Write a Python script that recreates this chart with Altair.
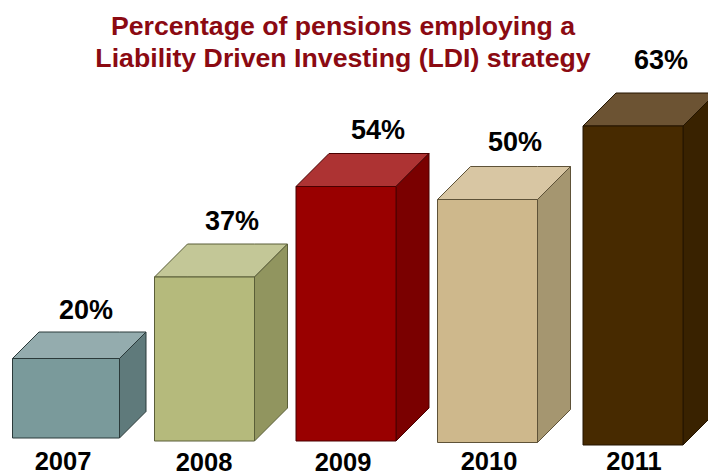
import altair as alt
import numpy as np
import pandas as pd

# Survey results: share of pensions using an LDI strategy
years = [2007, 2008, 2009, 2010, 2011]
shares = [20, 37, 54, 50, 63]
title_lines = ["Percentage of pensions employing a", "Liability Driven Investing (LDI) strategy"]

front_colors = ["#7A9A9B", "#B5BA7C", "#990000", "#CEB88C", "#472A00"]
top_colors = ["#94ACAE", "#C3C797", "#AD3333", "#D8C6A3", "#6C5333"]
side_colors = ["#5F7A7B", "#91955F", "#7A0000", "#A59670", "#392200"]
edge_colors = ["#2B3A3A", "#5A5E38", "#4A0000", "#5E5238", "#241500"]

# Scale stops: the drawing is hand-laid, so both axes run through breakpoints
x_stops = [2007, 2008, 2009, 2010, 2011, 2012]
x_pixels = [12.5, 154.5, 296, 437.5, 583, 729]
y_stops = [-20, 0, 20, 37, 50, 54, 63, 90]
y_pixels = [532, 445, 358.5, 277, 199.5, 186.5, 126, -55]

# Box geometry, in screen pixels, converted to data units through the scales
face_width = [107, 100, 100, 100, 100]
depth = [26.5, 33, 33, 33, 33]
base_px = [438, 441, 441, 442.5, 445]
label_px = [(86, 311), (232, 222), (378, 131), (515, 143), (661, 61)]
year_px = [(63, 462), (204, 463), (343, 463), (489, 462), (634, 462)]


def x_at(px):
    return float(np.interp(px, x_pixels, x_stops))


def y_at(px):
    return float(np.interp(-px, [-p for p in y_pixels], y_stops))


def y_px(value):
    return float(np.interp(value, y_stops, y_pixels))


front_rows, area_rows, label_rows, year_rows = [], [], [], []
for i, (year, share) in enumerate(zip(years, shares)):
    left = float(np.interp(year, x_stops, x_pixels))
    right = left + face_width[i]
    d = depth[i]
    top = y_px(share)
    base = base_px[i]
    front_rows.append(
        dict(year=year, x=x_at(left), x2=x_at(right), y=share, y2=y_at(base),
             fill=front_colors[i], edge=edge_colors[i])
    )
    # Top face: a parallelogram leaning back from the front edge
    for px, hi, lo in [(left, top, top), (left + d, top - d, top),
                       (right, top - d, top), (right + d, top - d, top - d)]:
        area_rows.append(dict(face=f"{year}-top", x=x_at(px), y=y_at(hi), y2=y_at(lo),
                              fill=top_colors[i], edge=edge_colors[i]))
    # Side face: runs from the front's right edge to the back corner
    for px, hi, lo in [(right, top, base), (right + d, top - d, base - d)]:
        area_rows.append(dict(face=f"{year}-side", x=x_at(px), y=y_at(hi), y2=y_at(lo),
                              fill=side_colors[i], edge=edge_colors[i]))
    label_rows.append(dict(x=x_at(label_px[i][0]), y=y_at(label_px[i][1]), text=f"{share}%"))
    year_rows.append(dict(x=x_at(year_px[i][0]), y=y_at(year_px[i][1]), text=str(year)))

x_scale = alt.Scale(domain=x_stops, range=x_pixels)
y_scale = alt.Scale(domain=y_stops, range=y_pixels)
X = alt.X("x:Q", scale=x_scale, axis=None)
Y = alt.Y("y:Q", scale=y_scale, axis=None)
FILL = alt.Fill("fill:N", scale=None, legend=None)
EDGE = alt.Stroke("edge:N", scale=None, legend=None)

faces = (
    alt.Chart(pd.DataFrame(area_rows))
    .mark_area(orient="vertical", strokeWidth=1, clip=True, interpolate="linear")
    .encode(x=X, y=alt.Y("y:Q", scale=y_scale, axis=None, stack=None), y2="y2:Q",
            fill=FILL, stroke=EDGE, detail="face:N")
)
fronts = (
    alt.Chart(pd.DataFrame(front_rows))
    .mark_rect(strokeWidth=1)
    .encode(x=X, x2="x2:Q", y=Y, y2="y2:Q", fill=FILL, stroke=EDGE)
)
share_labels = (
    alt.Chart(pd.DataFrame(label_rows))
    .mark_text(font="Liberation Sans", fontWeight="bold", fontSize=27, color="#000000",
               align="center", baseline="middle")
    .encode(x=X, y=Y, text="text:N")
)
year_labels = (
    alt.Chart(pd.DataFrame(year_rows))
    .mark_text(font="Liberation Sans", fontWeight="bold", fontSize=25.5, color="#000000",
               align="center", baseline="middle")
    .encode(x=X, y=Y, text="text:N")
)
heading = (
    alt.Chart(pd.DataFrame({"line": title_lines, "row": [0, 1]}))
    .mark_text(font="Liberation Sans", fontWeight="bold", fontSize=26.7, color="#8B0A12",
               align="center", baseline="middle")
    .encode(x=alt.value(343),
            y=alt.Y("row:Q", scale=alt.Scale(domain=[0, 1], range=[27, 59]), axis=None),
            text="line:N")
)

chart = (
    alt.layer(faces, fronts, share_labels, year_labels, heading)
    .resolve_scale(y="independent")
    .properties(width=708, height=476, padding=0, autosize=alt.AutoSizeParams(type="none"), background="#FFFFFF")
    .configure_view(stroke=None)
)
chart.save("out.html", embed_options={"renderer": "svg", "actions": False})
